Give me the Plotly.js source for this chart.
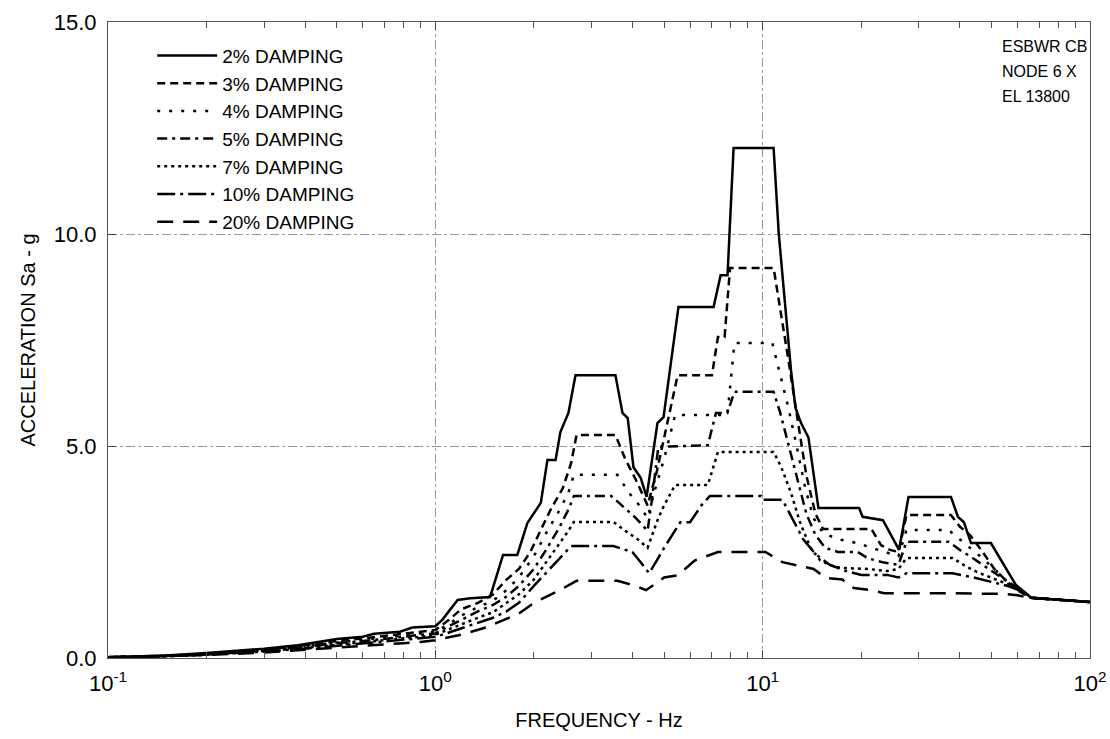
<!DOCTYPE html>
<html>
<head>
<meta charset="utf-8">
<script src="https://cdn.plot.ly/plotly-3.0.1.min.js"></script>
<style>html,body{margin:0;padding:0;background:#fff}#chart{width:1110px;height:739px}</style>
</head>
<body>
<div id="chart"></div>
<script>
// Frequency (Hz) and spectral acceleration (g)
const freq2 = [0.1,0.15,0.2,0.25,0.3,0.38,0.45,0.5,0.6,0.65,0.78,0.85,1.0,1.05,1.17,1.28,1.47,1.61,1.78,1.91,2.1,2.2,2.33,2.41,2.55,2.68,3.55,3.73,3.87,4.03,4.24,4.42,4.77,4.98,5.53,7.08,7.44,7.81,8.15,10.8,11.2,12.2,12.6,13.1,13.8,14.8,19.7,20.2,23.3,26.1,27.9,37.6,39.5,41.2,43.3,49.8,59.4,66.1,100];
const acc2  = [0.02,0.06,0.12,0.17,0.22,0.3,0.4,0.45,0.5,0.57,0.62,0.72,0.75,0.9,1.37,1.41,1.44,2.43,2.43,3.18,3.66,4.67,4.67,5.33,5.78,6.67,6.67,5.78,5.66,4.5,4.25,3.8,5.54,5.68,8.28,8.28,9.03,9.03,12.03,12.03,10.0,6.8,5.9,5.54,5.2,3.54,3.54,3.33,3.25,2.55,3.8,3.8,3.33,3.2,2.71,2.71,1.72,1.42,1.32];

const freq3 = [0.1,0.15,0.2,0.3,0.4,0.5,0.6,0.7,0.8,0.9,1.0,1.1,1.2,1.35,1.5,1.65,1.8,1.95,2.1,2.25,2.45,2.6,2.7,3.55,3.8,4.1,4.45,4.75,5.1,5.5,7.0,7.3,7.65,7.95,10.8,11.3,12.0,12.8,13.6,14.5,15.3,21.5,23.0,24.5,26.0,27.5,37.6,40,43,47,51,55,60,66,100];
const acc3  = [0.02,0.05,0.1,0.19,0.3,0.4,0.46,0.52,0.57,0.62,0.66,0.9,1.15,1.3,1.5,1.85,2.1,2.5,3.0,3.5,4.0,4.6,5.26,5.26,4.7,4.2,3.6,4.4,5.5,6.67,6.67,7.57,7.57,9.2,9.2,8.3,7.0,5.6,4.3,3.4,3.04,3.04,2.66,2.55,2.5,3.37,3.37,3.1,2.9,2.5,2.1,1.85,1.6,1.42,1.32];

const freq4 = [0.1,0.15,0.2,0.3,0.4,0.5,0.6,0.7,0.8,0.9,1.0,1.1,1.2,1.35,1.5,1.65,1.8,2.0,2.2,2.4,2.55,2.65,3.6,3.9,4.2,4.45,4.7,5.0,5.4,7.8,8.2,10.7,11.2,11.9,12.7,13.5,14.3,15.3,17.0,19.5,21.5,23.5,26.0,27.5,37.0,40,43,47,51,55,60,66,100];
const acc4  = [0.02,0.05,0.1,0.18,0.28,0.37,0.43,0.48,0.53,0.58,0.62,0.8,1.0,1.2,1.35,1.6,1.9,2.4,3.0,3.5,3.9,4.32,4.32,3.9,3.6,3.3,4.0,4.7,5.73,5.73,7.43,7.43,6.8,6.0,5.0,4.0,3.3,2.95,2.8,2.71,2.6,2.5,2.4,3.02,3.02,2.8,2.6,2.35,2.1,1.85,1.6,1.42,1.32];

const freq5 = [0.1,0.15,0.2,0.3,0.4,0.5,0.6,0.7,0.8,0.9,1.0,1.1,1.2,1.35,1.5,1.65,1.8,2.0,2.2,2.4,2.55,2.65,3.45,3.8,4.1,4.45,4.6,4.8,6.8,7.2,7.8,8.2,10.8,11.3,12.0,12.8,13.6,14.5,15.5,17,19.5,21,23.5,26.0,27.5,37.0,40,43,47,51,56,62,66,100];
const acc5  = [0.02,0.05,0.09,0.17,0.26,0.35,0.4,0.45,0.5,0.55,0.58,0.75,0.9,1.1,1.25,1.45,1.7,2.1,2.6,3.1,3.5,3.82,3.82,3.54,3.3,3.0,3.8,4.98,5.02,5.78,5.78,6.28,6.28,5.8,5.0,4.2,3.4,2.9,2.6,2.5,2.5,2.35,2.25,2.2,2.74,2.74,2.55,2.4,2.2,2.0,1.8,1.6,1.42,1.32];

const freq7 = [0.1,0.15,0.2,0.3,0.4,0.5,0.6,0.7,0.8,0.9,1.0,1.1,1.2,1.35,1.5,1.65,1.8,2.0,2.2,2.4,2.55,2.65,3.5,3.8,4.15,4.45,4.8,5.0,5.4,6.8,7.3,10.8,11.4,12.2,13.0,14.0,15.0,16.5,18,21,24,26,27.5,38,42,46,52,58,63,66,100];
const acc7  = [0.02,0.04,0.08,0.16,0.24,0.32,0.37,0.42,0.46,0.5,0.55,0.68,0.8,0.95,1.08,1.3,1.5,1.85,2.3,2.7,3.0,3.21,3.21,3.0,2.8,2.6,3.3,3.6,4.08,4.08,4.86,4.86,4.5,3.9,3.2,2.6,2.3,2.15,2.12,2.1,2.05,2.1,2.36,2.36,2.15,2.0,1.85,1.7,1.55,1.42,1.32];

const freq10 = [0.1,0.15,0.2,0.3,0.4,0.5,0.6,0.7,0.8,0.9,1.0,1.1,1.2,1.35,1.5,1.65,1.8,2.0,2.2,2.4,2.6,3.5,4.0,4.3,4.5,4.75,5.0,5.6,6.0,6.5,6.9,9.9,10.0,11.5,12.3,13.3,14.5,16,18,20,24,26,27.5,38,44,50,56,63,66,100];
const acc10  = [0.02,0.04,0.08,0.15,0.22,0.29,0.34,0.38,0.42,0.46,0.5,0.6,0.7,0.82,0.95,1.1,1.3,1.7,2.05,2.35,2.64,2.64,2.5,2.2,2.0,2.3,2.6,3.2,3.2,3.6,3.82,3.82,3.73,3.73,3.3,2.8,2.45,2.2,2.05,1.96,1.96,1.9,2.0,2.0,1.9,1.8,1.7,1.55,1.42,1.32];

const freq20 = [0.1,0.15,0.2,0.3,0.4,0.5,0.6,0.7,0.8,0.9,1.0,1.2,1.4,1.6,1.8,2.0,2.2,2.4,2.7,3.6,4.1,4.4,4.7,5.0,5.5,6.2,7.3,10.2,11.5,13.5,14.3,15.6,17.5,19,21.5,23.5,37,55,60,66,100];
const acc20  = [0.02,0.04,0.07,0.13,0.19,0.24,0.28,0.32,0.35,0.38,0.42,0.55,0.7,0.88,1.05,1.3,1.45,1.6,1.82,1.82,1.7,1.6,1.75,1.9,1.95,2.3,2.5,2.5,2.26,2.15,2.1,1.89,1.85,1.65,1.6,1.53,1.53,1.51,1.48,1.42,1.32];

const seriesNames = ["2% DAMPING","3% DAMPING","4% DAMPING","5% DAMPING","7% DAMPING","10% DAMPING","20% DAMPING"];
const xTickVals = [0.1, 1, 10, 100];
const xTickText = ["10<sup>-1</sup>","10<sup>0</sup>","10<sup>1</sup>","10<sup>2</sup>"];
const yTickVals = [0, 5, 10, 15];
const noteLines = ["ESBWR CB","NODE 6 X","EL 13800"];

const xs = [freq2, freq3, freq4, freq5, freq7, freq10, freq20];
const ys = [acc2, acc3, acc4, acc5, acc7, acc10, acc20];
const dashes = ["solid","8px,5px","3px,9px","10px,5px,3px,5px","3px,4px","18px,5px,3px,5px","16px,10px"];

const FONT = "Liberation Sans, Arial, sans-serif";

const traces = xs.map((x, i) => ({
  x: x, y: ys[i], type: "scatter", mode: "lines", name: seriesNames[i],
  line: {color: "#000", width: 2.5, dash: dashes[i]}
}));

const annotations = noteLines.map((t, i) => ({
  xref: "paper", yref: "paper", x: 0.908, y: 0.978 - i * 0.0393,
  xanchor: "left", yanchor: "top", align: "left", showarrow: false,
  text: t, font: {family: FONT, size: 16, color: "#000"}
}));

const layout = {
  width: 1110, height: 739,
  margin: {l: 108, r: 20, t: 22, b: 81},
  paper_bgcolor: "#fff", plot_bgcolor: "#fff",
  font: {family: FONT, color: "#000", size: 17},
  showlegend: true,
  legend: {x: 0.045, y: 0.977, xanchor: "left", yanchor: "top",
           itemwidth: 60,
           font: {family: FONT, size: 19, color: "#000"},
           bgcolor: "rgba(0,0,0,0)", borderwidth: 0, tracegroupgap: 0},
  xaxis: {
    type: "log", range: [-1, 2],
    tickvals: xTickVals, ticktext: xTickText,
    ticks: "inside", ticklen: 8, tickcolor: "#444",
    tickfont: {family: FONT, size: 22},
    ticklabelstandoff: 6,
    showline: true, linecolor: "#555", linewidth: 1, mirror: "ticks",
    showgrid: true, gridcolor: "#999", gridwidth: 1, griddash: "dashdot",
    zeroline: false,
    minor: {ticks: "inside", ticklen: 6, tickcolor: "#555", dtick: "D1", showgrid: false},
    title: {text: "FREQUENCY - Hz", font: {family: FONT, size: 20}, standoff: 17}
  },
  yaxis: {
    range: [0, 15],
    tickvals: yTickVals, tickformat: ".1f",
    ticks: "inside", ticklen: 8, tickcolor: "#444",
    tickfont: {family: FONT, size: 22},
    ticklabelstandoff: 6,
    showline: true, linecolor: "#555", linewidth: 1, mirror: "ticks",
    showgrid: true, gridcolor: "#999", gridwidth: 1, griddash: "dashdot",
    zeroline: false,
    title: {text: "ACCELERATION Sa - g", font: {family: FONT, size: 20}, standoff: 12}
  },
  annotations: annotations
};

Plotly.newPlot("chart", traces, layout, {displayModeBar: false, staticPlot: true});
</script>
</body>
</html>
